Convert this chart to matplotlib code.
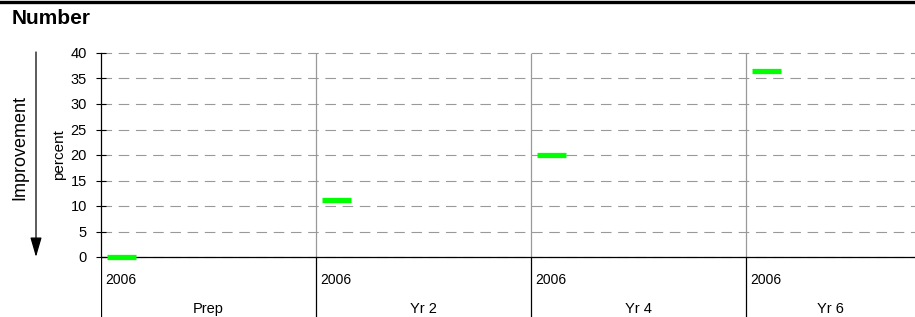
import matplotlib
matplotlib.use("Agg")
import matplotlib.pyplot as plt
from matplotlib.lines import Line2D

plt.rcParams['font.family'] = ['Liberation Sans', 'DejaVu Sans']

# chart data
categories = ['Prep', 'Yr 2', 'Yr 4', 'Yr 6']
years = ['2006', '2006', '2006', '2006']
values = [0, 11.2, 20, 36.4]
yticks = [0, 5, 10, 15, 20, 25, 30, 35, 40]

W, H = 915, 317
fig = plt.figure(figsize=(W / 100, H / 100), dpi=100)

# plot area in pixels: x 101..915, y 53..257 (from top)
left, right, top, bottom = 101, 915, 53, 257
panel_px = 215
xmax = (right - left) / panel_px

ax = fig.add_axes([left / W, 1 - bottom / H, (right - left) / W, (bottom - top) / H])
ax.set_xlim(0, xmax)
ax.set_ylim(0, 40)
ax.set_yticks(yticks)
ax.set_xticks([])
ax.tick_params(axis='y', direction='inout', length=7.2, width=0.8, pad=6.5,
               labelsize=10.5, colors='black')
ax.grid(axis='y', color='#999999', linewidth=0.8, linestyle=(0, (9.5, 6)))
for gl in ax.get_ygridlines():
    gl.set_clip_on(False)
for s in ['top', 'right']:
    ax.spines[s].set_visible(False)
ax.spines['left'].set_linewidth(0.9)
ax.spines['bottom'].set_linewidth(0.9)
ax.set_ylabel('percent', fontsize=11, labelpad=3)

# panel separators inside plot area
ax.vlines(range(1, len(categories)), 0, 40, color='#999999', linewidth=0.9, zorder=1.6)

# green dashes
xs = range(len(categories))
ax.hlines(values, [i + 0.03 for i in xs], [i + 0.165 for i in xs],
          color='#00ff00', linewidth=3.8, zorder=4, clip_on=False)

# category area below
cax = fig.add_axes([left / W, 0, (right - left) / W, (H - bottom) / H])
cax.set_xlim(0, xmax)
cax.set_ylim(0, 1)
cax.axis('off')
cax.vlines(range(len(categories)), 0, 1, color='black', linewidth=0.9)
for i, (cat, yr) in enumerate(zip(categories, years)):
    cax.text(i + 0.02, 0.55, yr, fontsize=10, ha='left', va='baseline')
    xc = (i + min(i + 1, xmax)) / 2
    cax.text(xc, 0.067, cat, fontsize=10.5, ha='center', va='baseline')

# title and top rule
fig.add_artist(Line2D([0, 1], [1 - 1.5 / H, 1 - 1.5 / H], color='black', linewidth=2.4))
fig.text(12 / W, 1 - 24 / H, 'Number', fontsize=15, fontweight='bold', ha='left', va='baseline')

# improvement arrow
ax.annotate('', xy=(36, H - 257), xytext=(36, H - 52),
            xycoords='figure pixels', textcoords='figure pixels',
            arrowprops=dict(arrowstyle='-|>,head_width=0.35,head_length=1.2',
                            color='black', lw=0.9, shrinkA=0, shrinkB=0,
                            mutation_scale=10))
fig.text(20 / W, 1 - 147 / H, 'Improvement', rotation=90, fontsize=13,
         ha='center', va='center')

fig.savefig('out.png', dpi=100)
